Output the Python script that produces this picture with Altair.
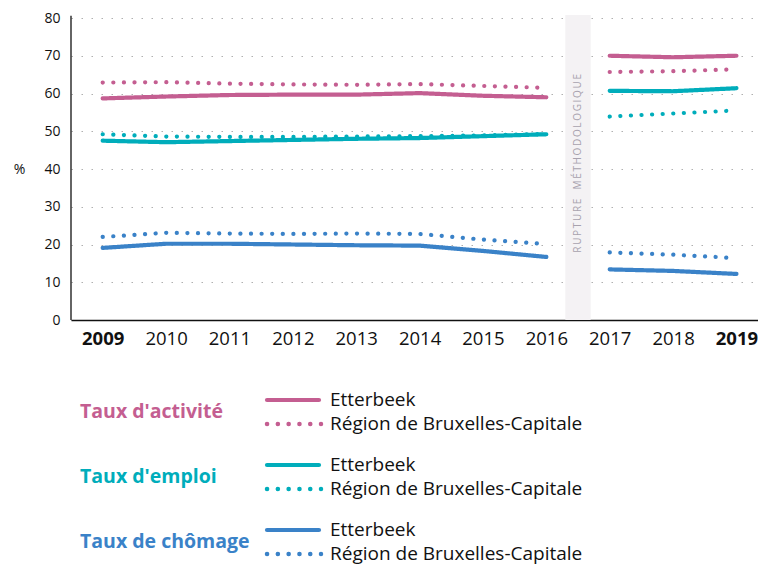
import altair as alt
import pandas as pd

years = list(range(2009, 2020))

act_ett = [58.7, 59.2, 59.6, 59.7, 59.7, 60.1, 59.4, 59.0, 70.0, 69.6, 70.0]
act_reg = [62.9, 63.0, 62.6, 62.4, 62.3, 62.5, 62.0, 61.5, 65.7, 65.9, 66.4]
emp_ett = [47.5, 47.1, 47.4, 47.7, 48.0, 48.2, 48.7, 49.2, 60.7, 60.6, 61.4]
emp_reg = [49.2, 48.6, 48.5, 48.5, 48.6, 48.7, 48.9, 49.3, 53.9, 54.7, 55.5]
une_ett = [19.1, 20.2, 20.2, 20.0, 19.8, 19.7, 18.3, 16.7, 13.4, 13.0, 12.2]
une_reg = [22.0, 23.1, 22.9, 22.8, 22.9, 22.8, 21.3, 20.1, 17.9, 17.3, 16.4]

indicators = ["Taux d'activité", "Taux d'emploi", "Taux de chômage"]
colors = ["#c45e91", "#00adbb", "#3a82c8"]
areas = ["Etterbeek", "Région de Bruxelles-Capitale"]
rupture_label = "RUPTURE MÉTHODOLOGIQUE"

series = [(act_ett, act_reg), (emp_ett, emp_reg), (une_ett, une_reg)]
rows = []
for ind, pair in zip(indicators, series):
    for area, vals in zip(areas, pair):
        for yr, v in zip(years, vals):
            rows.append({"indicator": ind, "area": area, "year": yr, "value": v,
                         "period": "avant" if yr <= 2016 else "après"})
df = pd.DataFrame(rows)

W = 687
H = 552
font = "Open Sans"

color_scale = alt.Scale(domain=indicators, range=colors)
dash_scale = alt.Scale(domain=areas, range=[[1, 0], [0.1, 10.5]])
x_scale = alt.Scale(domain=[2008.5, 2019.34], nice=False, zero=False)
y_scale = alt.Scale(domain=[0, 80], range=[302, 0], nice=False, zero=False)

x_axis = alt.Axis(
    values=years, format="d", title=None, labelFontSize=18.5, labelFont=font,
    labelFontWeight={"condition": {"test": "datum.value == 2009 || datum.value == 2019", "value": "bold"}, "value": "normal"},
    labelColor="#111", domainColor="#111", domainWidth=1.3, ticks=False, grid=False,
    labelPadding=9, offset=-(H - 302), labelFlush=False,
)
y_axis = alt.Axis(
    values=list(range(0, 90, 10)), title="%", titleAngle=0, titleX=-52, titleY=151,
    titleAlign="center", titleBaseline="middle", titleFontWeight="normal",
    titleFontSize=14, titleFont=font, titleColor="#111",
    labelFontSize=14, labelFont=font, labelColor="#111", labelPadding=11,
    ticks=False, domain=False,
    grid=True, gridColor="#b0b0b0", gridDash=[1.5, 8.5], gridWidth=1.2,
)

band_df = pd.DataFrame({"year": [2016.3], "year2": [2016.7], "value": [0], "value2": [80.8],
                        "label": [rupture_label], "mid": [2016.5], "ymid": [41.5]})
yaxis_df = pd.DataFrame({"year": [2008.5], "value": [0], "value2": [80.6]})

band = alt.Chart(band_df).mark_rect(color="#f4f2f4").encode(
    x=alt.X("year:Q", scale=x_scale, axis=x_axis), x2="year2:Q",
    y=alt.Y("value:Q", scale=y_scale, axis=y_axis), y2="value2:Q",
)
yaxis_line = alt.Chart(yaxis_df).mark_rule(color="#111", strokeWidth=1.3).encode(
    x=alt.X("year:Q", scale=x_scale, axis=x_axis),
    y=alt.Y("value:Q", scale=y_scale, axis=y_axis), y2="value2:Q",
)
spaced = "\u2009".join(list(rupture_label)).replace("\u2009 \u2009", "\u2009\u2009 \u2009\u2009")
band_text = alt.Chart(band_df).mark_text(
    angle=270, fontSize=10, font=font, color="#a8a2ae", baseline="middle", align="center"
).encode(
    x=alt.X("mid:Q", scale=x_scale, axis=x_axis),
    y=alt.Y("ymid:Q", scale=y_scale, axis=y_axis),
    text=alt.value(spaced),
)
lines = alt.Chart(df).mark_line(strokeWidth=4.2, strokeCap="round", strokeJoin="round").encode(
    x=alt.X("year:Q", scale=x_scale, axis=x_axis),
    y=alt.Y("value:Q", scale=y_scale, axis=y_axis),
    color=alt.Color("indicator:N", scale=color_scale, legend=None),
    strokeDash=alt.StrokeDash("area:N", scale=dash_scale, legend=None),
    detail="period:N",
)
main = alt.layer(band, yaxis_line, band_text, lines)

# custom legend
leg_rows = []
for g, ind in enumerate(indicators):
    for s, area in enumerate(areas):
        leg_rows.append({"indicator": ind, "area": area, "pos": g + 0.369 * s})
leg_df = pd.DataFrame(leg_rows)
lab_df = pd.DataFrame({"indicator": indicators, "pos": [g + 0.185 for g in range(3)]})

leg_y = alt.Y("pos:Q", scale=alt.Scale(domain=[0, 2.369], range=[382, 536], nice=False, zero=False), axis=None)
leg_color = alt.Color("indicator:N", scale=color_scale, legend=None)

leg_labels = alt.Chart(lab_df).mark_text(
    align="left", baseline="middle", fontSize=19.5, fontWeight="bold", font=font
).encode(x=alt.value(9), y=leg_y, text="indicator:N", color=leg_color)

leg_solid = alt.Chart(leg_df).transform_filter(alt.datum.area == areas[0]).mark_rule(
    strokeWidth=4.2, strokeCap="round"
).encode(x=alt.value(196), x2=alt.value(248), y=leg_y, color=leg_color)

leg_dot = alt.Chart(leg_df).transform_filter(alt.datum.area == areas[1]).mark_rule(
    strokeWidth=4.5, strokeCap="round", strokeDash=[0.1, 10.7]
).encode(x=alt.value(196), x2=alt.value(250), y=leg_y, color=leg_color)

leg_text = alt.Chart(leg_df).mark_text(
    align="left", baseline="middle", fontSize=19, font=font, color="#111"
).encode(x=alt.value(259), y=leg_y, text="area:N")

legend = alt.layer(leg_labels, leg_solid, leg_dot, leg_text)

chart = alt.layer(main, legend).resolve_scale(y="independent").properties(
    width=W, height=H,
    padding={"left": 63, "top": 10, "right": 0, "bottom": 0},
    autosize=alt.AutoSizeParams(type="none"),
).configure(font=font).configure_view(stroke=None)

chart.save("out.html", embed_options={"renderer": "svg", "actions": False})
